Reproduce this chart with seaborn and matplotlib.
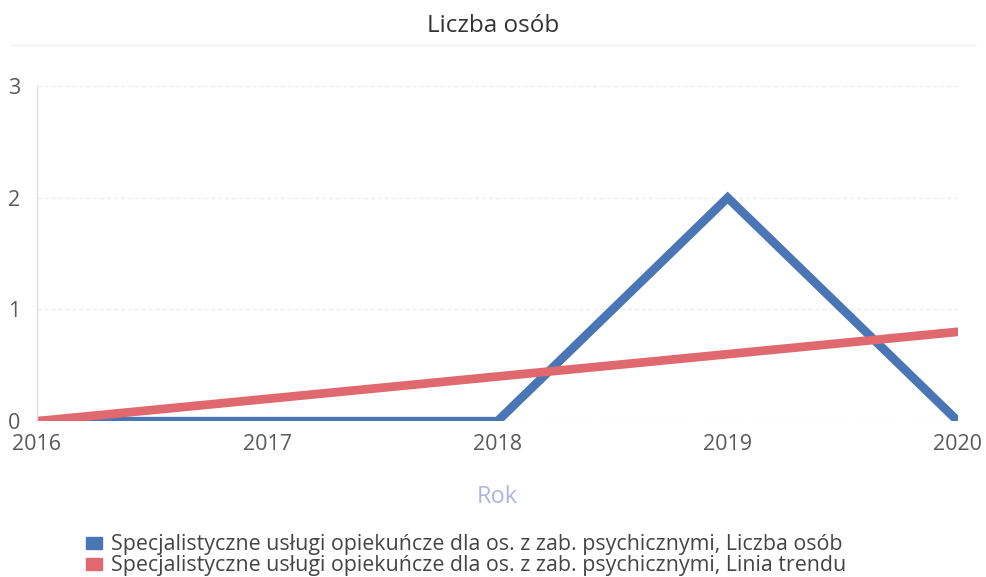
import pandas as pd
import matplotlib
matplotlib.use("Agg")
import matplotlib.pyplot as plt
import seaborn as sns

# data
years = [2016, 2017, 2018, 2019, 2020]
liczba_osob = [0, 0, 0, 2, 0]
linia_trendu = [0, 0.2, 0.4, 0.6, 0.8]
series_names = [
    "Specjalistyczne usługi opiekuńcze dla os. z zab. psychicznymi, Liczba osób",
    "Specjalistyczne usługi opiekuńcze dla os. z zab. psychicznymi, Linia trendu",
]
colors = ["#4a76b5", "#e0686f"]

df = pd.DataFrame({
    "Rok": years * 2,
    "value": liczba_osob + linia_trendu,
    "series": [series_names[0]] * len(years) + [series_names[1]] * len(years),
})

sns.set_style("white")
plt.rcParams["font.family"] = ["Open Sans", "DejaVu Sans"]

fig = plt.figure(figsize=(9.86, 5.77), dpi=100)
ax = fig.add_axes([0.0375, 0.27, 0.934, 0.581])

sns.lineplot(data=df, x="Rok", y="value", hue="series", hue_order=series_names,
             palette=colors, linewidth=6.3, ax=ax, legend=False,
             solid_capstyle="round", solid_joinstyle="miter")

ax.set_xlim(2016, 2020)
ax.set_ylim(0, 3)
ax.set_xticks(years)
ax.set_yticks([0, 1, 2, 3])
ax.yaxis.grid(True, color="#ececec", linewidth=1, linestyle=(0, (3, 2)))
ax.set_axisbelow(True)
for s in ["top", "right", "bottom"]:
    ax.spines[s].set_visible(False)
ax.spines["left"].set_color("#dadeee")
ax.spines["left"].set_linewidth(1)
ax.tick_params(axis="both", length=0, labelsize=15.5, colors="#5a5a5a")
ax.tick_params(axis="y", pad=12)
ax.tick_params(axis="x", pad=9)
ax.set_xlabel("Rok", fontsize=17, color="#b0b4dc", labelpad=22)
ax.set_ylabel("")

fig.text(0.5, 0.955, "Liczba osób", ha="center", va="center",
         fontsize=17.5, color="#333333")
fig.add_artist(plt.Line2D([0.01, 0.99], [0.922, 0.922], color="#f2f2f2",
                          linewidth=1, transform=fig.transFigure))

handles = [plt.Rectangle((0, 0), 1, 1, color=c) for c in colors]
fig.legend(handles, series_names, loc="lower left", bbox_to_anchor=(0.072, -0.025),
           frameon=False, fontsize=15.4, labelcolor="#444444", handlelength=0.75,
           handleheight=0.5, handletextpad=0.4, labelspacing=0.0,
           borderaxespad=0.3)

fig.savefig("out.png", dpi=100)
